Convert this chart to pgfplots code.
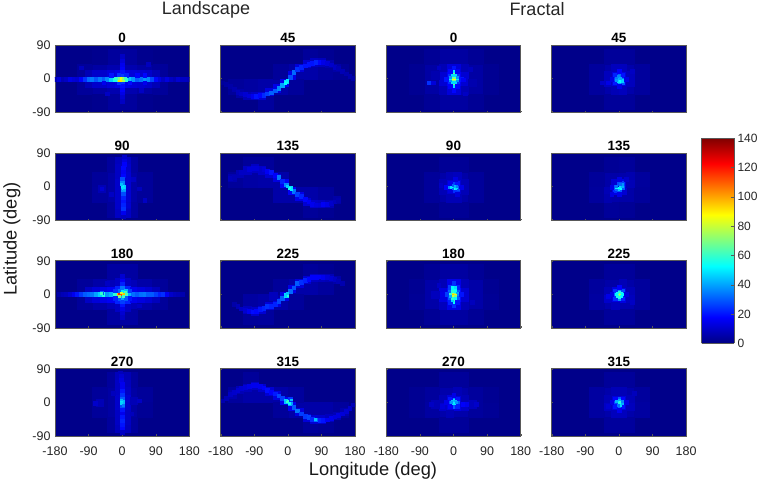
\documentclass[border=0pt]{standalone}
\usepackage{fontspec}
\usepackage{pgfplots}
\pgfplotsset{compat=1.18}
\setmainfont{Liberation Sans}
\definecolor{bx}{gray}{0.35}
\newcommand{\fs}[1]{\fontsize{#1}{#1}\selectfont}
\pgfplotsset{
 colormap={mj}{rgb(0)=(0,0,0.52) rgb(1)=(0,0,1) rgb(3)=(0,1,1) rgb(5)=(1,1,0) rgb(7)=(1,0,0) rgb(8)=(0.5,0,0)},
 cell/.style={scatter,only marks,point meta=explicit,mark=square*,mark size=#1,mark options={line width=0.1pt},scatter/use mapped color={draw=mapped color,fill=mapped color}},
 noxl/.style={xticklabels={}},
 noyl/.style={yticklabels={}},
}
\newcommand{\panel}[8]{%
\begin{axis}[at={(#1pt,#2pt)},anchor=south west,scale only axis,width=134.4pt,height=67.2pt,
 colormap name=mj,point meta min=0,point meta max=140,clip marker paths=true,
 axis background/.style={fill={rgb,1:red,0;green,0;blue,0.54}},
 xmin=-180,xmax=180,ymin=-90,ymax=90,xtick={-180,-90,0,90,180},ytick={-90,0,90},
 xticklabels={-180,-90,0,90,180},yticklabels={-90,0,90},
 tick align=inside,tick pos=lower,major tick length=1.5pt,
 axis line style={bx,line width=0.6pt},tick style={bx,line width=0.4pt},
 tick label style={font=\fs{12.5},text=black!85},
 xticklabel style={yshift=-1.5pt},yticklabel style={xshift=-1pt},
 title={\textbf{#3}},title style={font=\fs{13.5},yshift=-7.5pt},
 #4]
\addplot[cell=7.47] table[meta index=2,row sep=\\]{#5};
\addplot[cell=3.73] table[meta index=2,row sep=\\]{#6};
\addplot[cell=1.87] table[meta index=2,row sep=\\]{#7};
\addplot[cell=0.93] table[meta index=2,row sep=\\]{#8};
\end{axis}}
\begin{document}
\begin{tikzpicture}
\path[use as bounding box] (0,0) rectangle (760pt,484pt);
% ---------- Landscape 0
\panel{55}{371.7}{0}{noxl}
{-60 20 4.5\\-20 20 6\\20 20 6\\60 20 4.5\\-60 -20 4.5\\-20 -20 6\\20 -20 6\\60 -20 4.5\\-20 60 3.5\\20 60 3.5\\-20 -60 3.5\\20 -60 3.5\\-100 20 3\\100 20 3\\-100 -20 3\\100 -20 3\\-60 60 1.5\\60 60 1.5\\-60 -60 1.5\\60 -60 1.5\\}
{-90 12 7\\-70 12 10\\-50 12 10\\-30 12 12\\-10 12 14\\10 12 14\\30 12 12\\50 12 11\\70 12 10\\90 12 7\\-90 -12 7\\-70 -12 10\\-50 -12 10\\-30 -12 12\\-10 -12 14\\10 -12 14\\30 -12 12\\50 -12 11\\70 -12 10\\90 -12 7\\}
{-180 0 7\\-170 0 12\\-160 0 7\\-150 0 9\\-140 0 14\\-130 0 12\\-120 0 11\\-110 0 17\\-100 0 24\\-90 0 32\\-80 0 34\\-70 0 29\\-60 0 34\\-50 0 30\\-40 0 36\\-30 0 46\\-20 0 56\\-10 0 74\\0 0 80\\10 0 58\\20 0 44\\30 0 38\\40 0 30\\50 0 33\\60 0 38\\70 0 36\\80 0 27\\90 0 18\\100 0 13\\110 0 9\\120 0 13\\130 0 9\\140 0 7\\150 0 11\\160 0 9\\170 0 9\\180 0 8\\0 10 26\\0 20 20\\0 30 17\\0 40 15\\0 50 12\\0 60 9\\0 -10 25\\0 -20 19\\0 -30 17\\0 -40 14\\0 -50 11\\0 -60 9\\-30 10 20\\-10 10 24\\10 10 22\\40 10 17\\60 10 18\\-50 -10 15\\-10 -10 24\\20 -10 19\\60 -10 15\\-110 30 8\\70 40 8\\-40 -40 9\\50 -30 9\\}
{-12.5 -2.5 68\\-7.5 -2.5 92\\-2.5 -2.5 90\\2.5 -2.5 76\\-7.5 2.5 70\\-2.5 2.5 84\\2.5 2.5 74\\7.5 2.5 60\\-17.5 2.5 60\\}
% ---------- Landscape 45
\panel{220.7}{371.7}{45}{noxl,noyl}
{-100 -20 4\\-60 -20 5\\-20 -20 5\\20 20 5\\60 20 5\\100 20 3.5\\-60 -60 3.5\\-20 20 3\\20 -20 3\\60 60 3\\100 60 2\\-140 -20 3\\140 20 2.5\\}
{-130 -38 5\\-110 -45 7\\-90 -45 9\\-70 -45 11\\-50 -35 13\\-30 -25 14\\-10 -10 15\\10 10 14\\30 30 12\\50 40 11\\70 45 9\\90 45 8\\110 40 6\\130 30 5\\}
{-175 -10 3\\-165 -15 4\\-155 -20 5\\-145 -28 6\\-135 -35 8\\-125 -40 9\\-115 -42 11\\-105 -45 12\\-95 -46 15\\-85 -46 20\\-75 -44 18\\-65 -44 23\\-55 -40 26\\-45 -37 31\\-35 -32 30\\-25 -26 36\\-15 -18 40\\-5 -8 48\\5 5 28\\15 18 32\\25 26 24\\35 32 22\\45 35 20\\55 40 20\\65 42 20\\75 44 22\\85 44 18\\95 44 14\\105 42 12\\115 38 10\\125 32 9\\135 28 7\\145 20 7\\155 14 6\\165 8 6\\175 2 5\\}
{-5 -7.5 58\\-2.5 -2.5 50\\-7.5 -12.5 52\\}
% ---------- Fractal 0
\panel{386.3}{371.7}{0}{noxl,noyl}
{-20 20 7\\20 20 7\\-20 -20 7\\20 -20 7\\-60 20 4.5\\60 20 4.5\\-60 -20 4.5\\60 -20 4.5\\-20 60 4\\20 60 4\\-20 -60 4\\20 -60 4\\-60 60 2.5\\60 60 2.5\\-60 -60 2.5\\60 -60 2.5\\-100 20 2\\100 20 2\\-100 -20 2\\100 -20 2\\}
{-10 10 16\\10 10 16\\-10 -10 16\\10 -10 16\\-30 10 11\\30 10 11\\-30 -10 11\\30 -10 11\\-10 30 12\\10 30 12\\-10 -30 12\\10 -30 12\\-30 30 7\\30 30 7\\-30 -30 7\\30 -30 7\\-50 10 6\\50 -10 6\\}
{-10 0 34\\10 0 34\\0 10 46\\0 -10 46\\0 20 32\\0 -20 32\\0 30 20\\0 -30 18\\-10 10 24\\10 10 24\\-10 -10 24\\10 -10 24\\-10 20 18\\10 20 16\\-10 -20 17\\10 -20 18\\-20 0 20\\20 0 20\\-65 -10 24\\-55 -10 12\\25 -2 16\\-40 30 9\\45 25 8\\30 -40 9\\}
{0 0 135\\0 5 122\\0 -5 122\\0 10 92\\0 -10 92\\-5 0 88\\5 0 88\\-5 5 68\\5 5 68\\-5 -5 68\\5 -5 68\\0 15 68\\0 -15 68\\-5 10 48\\5 10 48\\-5 -10 48\\5 -10 48\\-10 0 50\\10 0 50\\-10 5 38\\10 5 38\\-10 -5 38\\10 -5 38\\0 20 50\\0 -20 48\\}
% ---------- Fractal 45
\panel{551.7}{371.7}{45}{noxl,noyl}
{-20 20 5.5\\20 20 5.5\\-20 -20 5.5\\20 -20 5.5\\-60 20 3.5\\60 20 3.5\\-60 -20 3.5\\60 -20 3.5\\-20 60 3\\20 60 3\\-20 -60 3\\20 -60 3\\}
{-10 10 13\\10 10 13\\-10 -10 13\\10 -10 13\\-30 -10 9\\30 -10 8\\-30 10 8\\30 10 8\\-10 30 8\\10 30 8\\-10 -30 7\\10 -30 8\\}
{-10 0 26\\0 10 32\\10 0 34\\0 -10 40\\-10 -10 21\\10 -10 30\\-10 10 22\\10 10 20\\0 20 17\\-20 0 14\\20 0 14\\0 -20 14\\-30 -10 14\\-45 -10 10\\35 20 9\\}
{0 -2.5 46\\2.5 -7.5 54\\-2.5 -7.5 48\\7.5 -7.5 46\\-2.5 2.5 42\\-7.5 2.5 34\\-2.5 7.5 36\\2.5 -2.5 52\\7.5 -2.5 46\\2.5 2.5 40\\-7.5 -2.5 38\\}
% ---------- Landscape 90
\panel{55}{263.7}{90}{noxl}
{-20 20 5\\20 20 5\\-20 -20 5\\20 -20 5\\-20 60 3.5\\20 60 4\\-20 -60 3.5\\20 -60 4\\-60 20 3\\60 20 3\\-60 -20 3.5\\60 -20 3\\}
{-10 70 8\\10 70 9\\-10 50 9\\10 50 10\\-10 30 9\\10 30 11\\-10 10 10\\10 10 11\\-10 -10 10\\10 -10 11\\-10 -30 10\\10 -30 11\\-10 -50 10\\10 -50 10\\-10 -70 9\\10 -70 9\\-55 -5 7\\}
{5 80 10\\5 70 13\\5 60 17\\3 50 18\\3 40 16\\3 30 18\\0 20 28\\0 10 36\\2 0 46\\2 -10 38\\2 -20 28\\2 -30 22\\2 -40 20\\2 -50 22\\2 -60 24\\2 -70 15\\2 -80 8\\-55 -5 11\\60 -35 9\\30 20 9\\45 -5 8\\-30 -20 9\\15 -50 11\\}
{0 2.5 50\\2.5 -2.5 48\\-2.5 7.5 44\\5 -7.5 40\\}
% ---------- Landscape 135
\panel{220.7}{263.7}{135}{noxl,noyl}
{-140 20 3\\-100 20 4.5\\-60 20 5\\-20 20 5\\-20 -20 5\\20 -20 5\\60 -20 5\\100 -20 3.5\\-100 60 3\\-60 60 3\\60 -60 3\\100 -60 2\\}
{-130 35 7\\-110 45 9\\-90 50 9\\-70 45 10\\-50 35 11\\-30 25 13\\-10 10 16\\10 -10 16\\30 -25 14\\50 -40 11\\70 -45 10\\90 -45 9\\110 -45 7\\130 -35 5\\-150 25 6\\}
{-155 23 8\\-145 26 7\\-125 40 9\\-105 48 12\\-95 50 12\\-85 50 12\\-65 48 12\\-55 42 16\\-45 40 20\\-35 32 17\\-25 26 34\\-15 16 22\\-5 6 36\\5 -2 48\\15 -12 34\\25 -20 26\\35 -26 22\\45 -34 18\\55 -40 16\\65 -46 15\\75 -48 13\\85 -48 12\\95 -46 16\\105 -46 14\\115 -44 10\\125 -40 8\\135 -36 6\\}
{2.5 -2.5 56\\-2.5 2.5 46\\7.5 -7.5 50\\}
% ---------- Fractal 90
\panel{386.3}{263.7}{90}{noxl,noyl}
{-20 20 5\\20 20 5\\-20 -20 5\\20 -20 5\\-60 20 3\\60 20 3\\-60 -20 3\\60 -20 3\\-20 60 2.5\\20 60 2.5\\-20 -60 2.5\\20 -60 2.5\\}
{-10 10 11\\10 10 11\\-10 -10 11\\10 -10 11\\-30 10 7\\30 10 7\\-30 -10 7\\30 -10 7\\-10 30 7\\10 30 8\\-10 -30 7\\10 -30 7\\}
{-10 0 24\\0 0 38\\10 0 30\\-20 0 16\\20 0 14\\0 10 26\\10 10 20\\0 -10 24\\10 -10 24\\-10 10 15\\-10 -10 13\\5 20 13\\10 -20 12\\-35 5 9\\}
{-12.5 0 36\\-7.5 0 48\\-2.5 0 52\\2.5 -2.5 54\\7.5 -2.5 48\\7.5 2.5 34\\12.5 -7.5 28\\2.5 2.5 42\\-2.5 -5 32\\-2.5 5 30\\}
% ---------- Fractal 135
\panel{551.7}{263.7}{135}{noxl,noyl}
{-20 20 5\\20 20 5.5\\-20 -20 5.5\\20 -20 5\\-60 20 3\\60 20 3.5\\-60 -20 3.5\\60 -20 3\\-20 60 2.5\\20 60 3\\-20 -60 3\\20 -60 2.5\\}
{-10 10 11\\10 10 14\\-10 -10 14\\10 -10 11\\-30 -10 7\\30 10 7\\-30 -30 6\\30 30 6\\}
{-10 -10 24\\0 -10 30\\10 0 30\\-10 0 30\\10 10 26\\0 10 28\\-20 -20 13\\20 20 10\\-20 0 14\\0 -20 14\\0 20 13\\}
{-7.5 -2.5 50\\-2.5 -2.5 54\\2.5 -2.5 52\\-2.5 -7.5 44\\2.5 2.5 48\\7.5 2.5 42\\7.5 7.5 38\\2.5 7.5 32\\-7.5 -7.5 32\\-7.5 2.5 34\\}
% ---------- Landscape 180
\panel{55}{156}{180}{noxl}
{-60 20 5\\-20 20 7.5\\20 20 7.5\\60 20 5\\-60 -20 5\\-20 -20 7.5\\20 -20 7.5\\60 -20 5\\-20 60 4\\20 60 4\\-20 -60 4\\20 -60 4\\-100 20 3\\100 20 3\\-100 -20 3\\100 -20 3\\}
{-90 10 9\\-70 10 12\\-50 10 14\\-30 10 16\\-10 15 22\\10 15 22\\30 10 15\\50 10 13\\70 10 11\\90 10 8\\-90 -10 9\\-70 -10 12\\-50 -10 14\\-30 -10 16\\-10 -15 22\\10 -15 22\\30 -10 15\\50 -10 13\\70 -10 11\\90 -10 8\\-10 35 9\\10 35 9\\-10 -35 9\\10 -35 9\\}
{-170 0 5\\-160 0 7\\-150 0 8\\-140 0 11\\-130 0 15\\-120 0 20\\-110 0 25\\-100 0 30\\-90 0 32\\-80 0 34\\-70 0 40\\-60 0 46\\-50 0 56\\-40 0 38\\-30 0 42\\-20 0 58\\-10 0 82\\0 0 88\\10 0 64\\20 0 42\\30 0 33\\40 0 30\\50 0 33\\60 0 34\\70 0 30\\80 0 30\\90 0 26\\100 0 22\\110 0 24\\120 0 16\\130 0 10\\140 0 8\\150 0 7\\160 0 6\\0 10 50\\0 20 34\\0 30 22\\0 40 16\\0 50 11\\0 -10 40\\0 -20 26\\0 -30 20\\0 -40 14\\0 -50 11\\0 -60 9\\10 10 44\\-10 10 32\\10 -10 30\\-10 -10 30\\-55 5 30\\-20 -10 22\\-20 10 24\\20 -10 20\\20 10 26\\-40 30 9\\45 -30 9\\}
{-12.5 0 96\\-7.5 0 118\\-2.5 0 112\\2.5 0 96\\-2.5 5 82\\-7.5 -5 70\\2.5 -5 62\\7.5 7.5 62\\-57.5 2.5 60\\}
% ---------- Landscape 225
\panel{220.7}{156}{225}{noxl,noyl}
{-100 -20 4\\-60 -20 5\\-20 -20 5\\20 20 5\\60 20 5\\100 20 3.5\\-100 -60 3\\-60 -60 3.5\\60 60 3\\100 60 2\\-20 20 3\\20 -20 3\\}
{-110 -40 8\\-90 -45 10\\-70 -40 11\\-50 -30 12\\-30 -20 13\\-10 -5 14\\10 15 14\\30 30 12\\50 40 11\\70 45 9\\90 45 8\\110 45 7\\130 40 5\\-40 -5 8\\}
{-145 -25 5\\-135 -32 7\\-125 -38 9\\-115 -42 11\\-105 -44 15\\-95 -46 19\\-85 -44 18\\-75 -40 20\\-65 -36 22\\-55 -32 24\\-45 -32 22\\-35 -26 22\\-25 -18 27\\-15 -10 30\\-5 -2 48\\5 8 32\\15 18 29\\25 30 30\\35 34 24\\45 38 22\\55 42 18\\65 46 17\\75 46 17\\85 48 17\\95 46 15\\105 46 12\\115 44 11\\125 42 9\\135 36 7\\145 30 6\\}
{-2.5 -2.5 58\\-7.5 -2.5 46\\-2.5 2.5 44\\}
% ---------- Fractal 180
\panel{386.3}{156}{180}{noxl,noyl}
{-20 20 8\\20 20 8\\-20 -20 8\\20 -20 8\\-60 20 5\\60 20 5\\-60 -20 5\\60 -20 5\\-20 60 4\\20 60 4\\-20 -60 4\\20 -60 4\\-60 60 2.5\\60 60 2.5\\-60 -60 2.5\\60 -60 2.5\\-100 20 2\\100 20 2\\-100 -20 2.5\\100 -20 2.5\\}
{-10 10 19\\10 10 19\\-10 -10 19\\10 -10 19\\-30 10 13\\30 10 11\\-30 -10 13\\30 -10 11\\-10 30 14\\10 30 14\\-10 -30 14\\10 -30 14\\-50 0 8\\-30 30 7\\30 30 7\\-30 -30 8\\30 -30 7\\}
{-10 0 42\\10 0 36\\0 10 56\\0 -10 56\\0 20 48\\0 -20 46\\0 30 24\\0 -30 24\\-10 10 32\\10 10 30\\-10 -10 30\\10 -10 30\\-20 0 26\\20 0 20\\-10 20 26\\10 20 22\\-10 -20 22\\10 -20 20\\-30 0 14\\-40 25 9\\50 -20 8\\}
{0 0 132\\0 5 115\\0 -5 128\\0 10 88\\0 -10 98\\-5 0 96\\5 0 90\\-5 5 78\\5 5 70\\-5 -5 80\\5 -5 70\\0 15 66\\0 -15 64\\0 20 70\\0 -20 54\\-5 15 52\\5 15 52\\-5 -15 46\\-10 0 60\\-5 20 52\\5 20 48\\-5 10 58\\5 10 54\\-5 -10 58\\5 -10 52\\10 5 40\\-10 -5 42\\}
% ---------- Fractal 225
\panel{551.7}{156}{225}{noxl,noyl}
{-20 20 5\\20 20 5\\-20 -20 6\\20 -20 6\\-60 20 3.5\\60 20 3.5\\-60 -20 4\\60 -20 3.5\\-20 60 3\\20 60 3\\-20 -60 3\\20 -60 3\\}
{-10 10 13\\10 10 13\\-10 -10 14\\10 -10 13\\-30 -10 10\\30 -10 8\\-30 10 7\\30 10 7\\-10 -30 8\\10 30 7\\}
{-10 0 32\\10 0 34\\0 10 38\\0 -10 38\\-10 10 24\\10 10 28\\-10 -10 24\\10 -10 22\\0 20 17\\-30 -5 14\\-20 0 14\\20 0 12\\35 -20 9\\}
{0 0 82\\-2.5 2.5 72\\2.5 -2.5 74\\-5 -5 56\\5 5 56\\5 -5 52\\-5 5 54\\0 7.5 56\\0 -7.5 56\\7.5 0 52\\-7.5 0 52\\}
% ---------- Landscape 270
\panel{55}{48}{270}{xticklabel style={yshift=-6pt}}
{-20 20 4.5\\20 20 4.5\\-20 -20 4.5\\20 -20 4.5\\-20 60 3.5\\20 60 3.5\\-20 -60 3.5\\20 -60 3.5\\-60 20 3\\60 20 3\\-60 -20 3\\60 -20 2.5\\}
{-10 70 8\\10 70 7\\-10 50 9\\10 50 8\\-10 30 9\\10 30 9\\-10 10 10\\10 10 11\\-10 -10 10\\10 -10 10\\-10 -30 9\\10 -30 9\\-10 -50 9\\10 -50 9\\-10 -70 8\\10 -70 8\\-60 0 7\\30 5 7\\}
{-5 80 8\\-3 70 11\\-3 60 13\\-1 50 15\\-1 40 15\\0 30 20\\0 20 24\\-1 10 30\\-1 0 42\\0 -10 28\\0 -20 20\\-1 -30 15\\-1 -40 20\\-1 -50 22\\-1 -60 20\\0 -70 18\\0 -80 9\\-72 -2 10\\45 5 9\\-25 25 8\\25 -30 8\\}
{-2.5 2.5 48\\-2.5 -2.5 46\\-2.5 7.5 42\\2.5 -7.5 34\\}
% ---------- Landscape 315
\panel{220.7}{48}{315}{noyl,xticklabel style={yshift=-6pt}}
{-140 20 3.5\\-100 20 5\\-60 20 5\\-20 20 5\\20 -20 5\\60 -20 5\\100 -20 5\\140 -20 3.5\\-100 60 3\\60 -60 3\\100 -60 2.5\\-20 -20 3\\20 20 3.5\\}
{-150 22 6\\-130 35 7\\-110 40 8\\-90 45 9\\-70 40 10\\-50 30 11\\-30 20 13\\-10 5 15\\10 -10 15\\30 -25 13\\50 -40 12\\70 -45 11\\90 -45 10\\110 -40 8\\130 -35 7\\150 -25 6\\}
{-175 5 6\\-165 12 7\\-155 22 9\\-145 28 10\\-135 34 11\\-125 38 11\\-115 42 12\\-105 44 14\\-95 46 15\\-85 46 15\\-75 44 15\\-65 40 17\\-55 34 19\\-45 28 17\\-35 24 21\\-25 18 27\\-15 12 26\\-5 4 44\\5 -2 40\\15 -12 30\\25 -22 34\\35 -30 26\\45 -36 25\\55 -40 27\\65 -44 23\\75 -46 32\\85 -48 22\\95 -48 20\\105 -46 16\\115 -42 15\\125 -38 13\\135 -34 13\\145 -30 12\\155 -24 11\\165 -16 10\\175 -6 7\\5 8 24\\}
{-2.5 2.5 60\\2.5 -2.5 54\\-7.5 7.5 46\\7.5 7.5 44\\72.5 -45 44\\}
% ---------- Fractal 270
\panel{386.3}{48}{270}{noyl,xticklabel style={yshift=-6pt}}
{-20 20 5.5\\20 20 5.5\\-20 -20 5.5\\20 -20 5.5\\-60 20 3.5\\60 20 3.5\\-60 -20 4\\60 -20 3.5\\-20 60 3\\20 60 3\\-20 -60 3\\20 -60 3\\-100 20 2\\100 -20 2.5\\-100 -20 2\\100 20 2\\}
{-10 10 12\\10 10 12\\-10 -10 13\\10 -10 13\\-30 -10 10\\30 -10 10\\-30 10 7\\30 10 7\\50 -5 8\\-50 -5 7\\-10 -30 7\\10 30 7\\}
{-10 0 28\\10 0 30\\0 10 36\\0 -10 30\\-10 10 20\\10 10 20\\-10 -10 17\\10 -10 22\\25 -5 17\\35 -5 15\\-30 -10 12\\0 20 14\\-20 0 14\\60 -5 10\\-60 -5 9\\}
{0 2.5 62\\-2.5 2.5 58\\2.5 2.5 56\\0 -2.5 54\\-2.5 -2.5 48\\2.5 -2.5 50\\0 7.5 48\\-5 5 44\\5 5 42\\-7.5 0 38\\7.5 0 38\\}
% ---------- Fractal 315
\panel{551.7}{48}{315}{noyl,xticklabel style={yshift=-6pt}}
{-20 20 5.5\\20 20 5.5\\-20 -20 5.5\\20 -20 5.5\\-60 20 4\\60 20 3.5\\-60 -20 4\\60 -20 4\\-20 60 3\\20 60 3\\-20 -60 3.5\\20 -60 3.5\\}
{-10 10 12\\10 10 12\\-10 -10 13\\10 -10 13\\-30 -10 9\\30 -10 8\\-30 10 7\\30 10 7\\-10 30 7\\10 30 7\\-10 -30 8\\10 -30 8\\}
{-10 0 28\\10 0 30\\0 10 30\\0 -10 32\\-10 10 18\\10 10 18\\-10 -10 20\\10 -10 20\\0 -20 15\\-20 0 14\\20 0 14\\-30 -10 11\\40 25 8\\}
{0 2.5 64\\-2.5 2.5 62\\2.5 2.5 60\\-5 2.5 50\\5 -2.5 50\\0 -2.5 56\\2.5 -7.5 48\\0 7.5 42\\-7.5 2.5 42\\7.5 -2.5 42\\-2.5 -7.5 34\\7.5 2.5 36\\}
% ---------- Colorbar
\begin{axis}[at={(701.7pt,140.7pt)},anchor=south west,scale only axis,width=32.3pt,height=205pt,
 colormap name=mj,point meta min=0,point meta max=140,view={0}{90},
 xmin=0,xmax=1,ymin=0,ymax=140,xtick=\empty,ytick={0,20,40,60,80,100,120,140},
 yticklabels={0,20,40,60,80,100,120,140},yticklabel pos=right,
 tick align=inside,major tick length=3pt,tick pos=right,
 axis line style={bx,line width=0.6pt},tick style={bx,line width=0.4pt},
 tick label style={font=\fs{12},text=black!85},yticklabel style={xshift=0pt}]
\addplot3[surf,shader=interp,point meta=y] coordinates {(0,0,0) (1,0,0)

(0,140,0) (1,140,0)};
\end{axis}
\node[font=\fs{18},text=black!85] at (206pt,474.5pt) {Landscape};
\node[font=\fs{18},text=black!85] at (537pt,474.5pt) {Fractal};
\node[font=\fs{18.3},text=black!90,rotate=90] at (12pt,245pt) {Latitude (deg)};
\node[font=\fs{18.3},text=black!90] at (373pt,13.5pt) {Longitude (deg)};
\end{tikzpicture}
\end{document}
